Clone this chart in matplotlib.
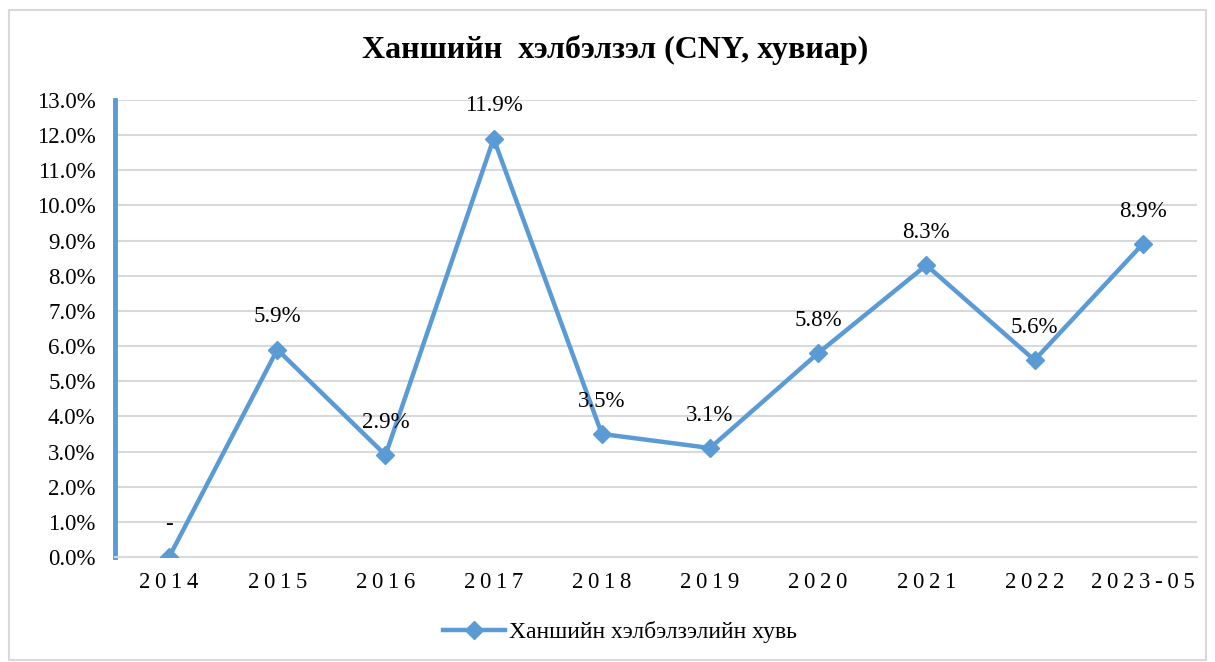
import matplotlib
matplotlib.use("Agg")
import matplotlib.pyplot as plt
from matplotlib.patches import Rectangle

plt.rcParams['font.family'] = ['Liberation Serif', 'DejaVu Serif']

# data
years = ['2014', '2015', '2016', '2017', '2018', '2019', '2020', '2021', '2022', '2023-05']
change = [0.0, 5.9, 2.9, 11.9, 3.5, 3.1, 5.8, 8.3, 5.6, 8.9]
labels = ['-', '5.9%', '2.9%', '11.9%', '3.5%', '3.1%', '5.8%', '8.3%', '5.6%', '8.9%']

blue = '#5B9BD5'
grid = '#D9D9D9'

fig = plt.figure(figsize=(12.15, 6.62), dpi=100)
fig.patches.append(Rectangle((0.007, 0.003), 0.986, 0.982, transform=fig.transFigure,
                             fill=False, edgecolor=grid, linewidth=1.5))

ax = fig.add_axes([0.0947, 0.1586, 0.8903, 0.6904])
x = list(range(len(years)))
ax.plot(x, change, color=blue, linewidth=3.2, marker='D', markersize=9,
        label='Ханшийн хэлбэлзэлийн хувь', zorder=3)

for xi, yi, lab in zip(x, change, labels):
    ax.annotate(lab, (xi, yi), xytext=(0, 16), textcoords='offset points',
                ha='center', va='bottom', fontsize=16.5, color='#000000')

ax.set_xlim(-0.5, len(years) - 0.5)
ax.set_ylim(0, 13)
ax.set_yticks(range(0, 14))
ax.set_yticklabels(['%.1f%%' % v for v in range(0, 14)], fontsize=16.5)
ax.set_xticks(x)
ax.set_xticklabels(['\u2009'.join(y) for y in years], fontsize=16.5)
ax.tick_params(axis='x', length=0, pad=11)
ax.tick_params(axis='y', length=0, pad=14)

ax.grid(axis='y', color=grid, linewidth=1.5, zorder=0)
ax.set_axisbelow(True)
for s in ['top', 'right']:
    ax.spines[s].set_visible(False)
ax.spines['bottom'].set_color(grid)
ax.spines['bottom'].set_linewidth(1.5)
ax.spines['left'].set_color(blue)
ax.spines['left'].set_linewidth(3.5)

fig.text(0.506, 0.925, 'Ханшийн  хэлбэлзэл (CNY, хувиар)', ha='center', va='center',
         fontsize=23, fontweight='bold')

ax.legend(loc='center', bbox_to_anchor=(0.467, -0.165), frameon=False, fontsize=17,
          handlelength=2.6, handletextpad=0.2)

fig.savefig('out.png', dpi=100)
